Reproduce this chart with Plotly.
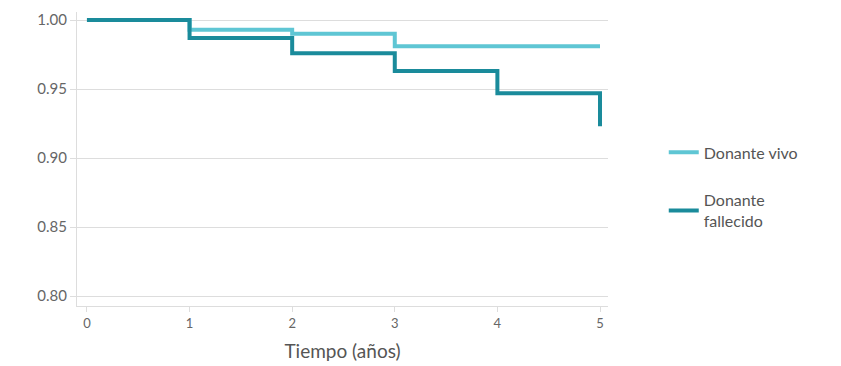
import plotly.graph_objects as go

years = [0, 1, 2, 3, 4, 5]
vivo = [1.000, 0.993, 0.990, 0.981, 0.981, 0.981]
fallecido_x = [0, 1, 2, 3, 4, 5, 5]
fallecido = [1.000, 0.987, 0.976, 0.963, 0.947, 0.947, 0.923]
names = ["Donante vivo", "Donante<br>fallecido"]
colors = ["#5FC6D4", "#1A8B9B"]

fig = go.Figure()
fig.add_trace(go.Scatter(x=years, y=vivo, mode="lines", line=dict(shape="hv", width=4, color=colors[0]),
                         name=names[0], legendgroup="a"))
fig.add_trace(go.Scatter(x=fallecido_x, y=fallecido, mode="lines", line=dict(shape="hv", width=4, color=colors[1]),
                         name=names[1], legendgroup="b"))

fig.update_layout(
    width=841, height=366,
    margin=dict(l=69, r=241, t=2, b=68),
    paper_bgcolor="white", plot_bgcolor="white",
    font=dict(family="Lato, sans-serif", color="#555555", size=14),
    legend=dict(x=1.105, y=0.405, xanchor="left", yanchor="middle", tracegroupgap=24,
                font=dict(size=16, color="#555555"), bgcolor="rgba(0,0,0,0)"),
    xaxis=dict(range=[-0.097, 5.078], tickvals=years, ticktext=["0", "1", "2", "3", "4", "5"],
               showgrid=False, showline=True, linecolor="#dddddd", linewidth=1,
               ticks="outside", ticklen=5, tickcolor="#dddddd", zeroline=False,
               title=dict(text="Tiempo (años)", font=dict(size=19, color="#555555"), standoff=15),
               tickfont=dict(size=13, color="#666666")),
    yaxis=dict(range=[0.7928, 1.0058], tickvals=[0.80, 0.85, 0.90, 0.95, 1.00],
               ticktext=["0.80", "0.85", "0.90", "0.95", "1.00"],
               showgrid=True, gridcolor="#dddddd", showline=True, linecolor="#dddddd",
               ticks="outside", ticklen=6, tickcolor="#dddddd", zeroline=False,
               ticklabeloverflow="allow",
               tickfont=dict(size=15, color="#666666")),
)
fig.write_html("out.html")
